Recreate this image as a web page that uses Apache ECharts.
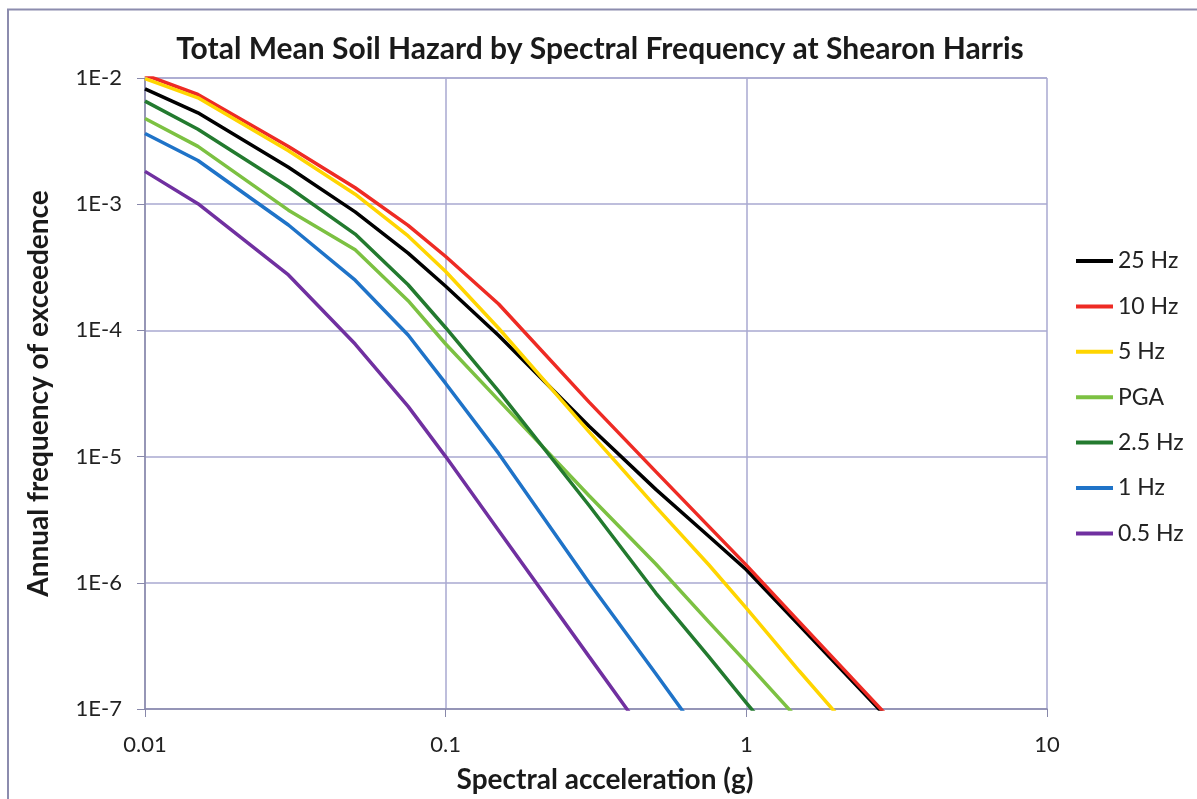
<!DOCTYPE html>
<html>
<head>
<meta charset="utf-8">
<title>Total Mean Soil Hazard by Spectral Frequency at Shearon Harris</title>
<script src="https://cdn.jsdelivr.net/npm/echarts@6/dist/echarts.min.js"></script>
<style>
  html, body { margin: 0; padding: 0; background: #fff; }
  #chart { width: 1197px; height: 799px; }
</style>
</head>
<body>
<div id="chart"></div>
<script>
// spectral acceleration (g) at which the hazard was computed
var accel = [0.01, 0.015, 0.03, 0.05, 0.075, 0.1, 0.15, 0.3, 0.5, 0.75, 1, 1.5, 3];

// annual frequency of exceedence, one array per spectral frequency
var hz25  = [8.2e-3, 5.3e-3, 1.96e-3, 8.7e-4, 4.1e-4, 2.24e-4, 9.1e-5, 1.74e-5, 5.5e-6, 2.34e-6, 1.27e-6, 4.6e-7, 8.1e-8];
var hz10  = [1.06e-2, 7.4e-3, 2.87e-3, 1.35e-3, 6.8e-4, 3.85e-4, 1.62e-4, 2.7e-5, 7.6e-6, 2.8e-6, 1.38e-6, 4.9e-7, 8.4e-8];
var hz5   = [9.9e-3, 6.97e-3, 2.65e-3, 1.2e-3, 5.6e-4, 2.93e-4, 1.04e-4, 1.57e-5, 4.0e-6, 1.39e-6, 6.3e-7, 2.0e-7, 3.0e-8];
var pga   = [4.77e-3, 2.87e-3, 8.97e-4, 4.35e-4, 1.72e-4, 7.8e-5, 2.8e-5, 4.9e-6, 1.41e-6, 4.9e-7, 2.34e-7, 8.1e-8, null];
var hz2_5 = [6.56e-3, 3.93e-3, 1.37e-3, 5.8e-4, 2.3e-4, 1.05e-4, 3.3e-5, 4.1e-6, 8.3e-7, 2.6e-7, 1.12e-7, 3.5e-8, null];
var hz1   = [3.63e-3, 2.22e-3, 6.84e-4, 2.5e-4, 9.2e-5, 3.8e-5, 1.06e-5, 1.0e-6, 1.9e-7, 5.0e-8, null, null, null];
var hz0_5 = [1.82e-3, 1.01e-3, 2.75e-4, 7.8e-5, 2.5e-5, 1.0e-5, 2.6e-6, 2.6e-7, 4.8e-8, null, null, null, null];

var names  = ['25 Hz', '10 Hz', '5 Hz', 'PGA', '2.5 Hz', '1 Hz', '0.5 Hz'];
var values = [hz25, hz10, hz5, pga, hz2_5, hz1, hz0_5];
var colors = ['#000000', '#ee2b24', '#ffd500', '#7cc142', '#237a2f', '#1f73c8', '#7030a0'];

var font = 'Lato';

function pairs(vals) {
    var out = [];
    for (var i = 0; i < accel.length; i++) {
        if (vals[i] != null) out.push([accel[i], vals[i]]);
    }
    return out;
}

var seriesList = names.map(function (n, i) {
    return {
        name: n,
        type: 'line',
        data: pairs(values[i]),
        symbol: 'none',
        showSymbol: false,
        clip: true,
        color: colors[i],
        lineStyle: { width: 3.5, color: colors[i] },
        emphasis: { disabled: true }
    };
});

var myChart = echarts.init(document.getElementById('chart'));
var option = {
    animation: false,
    backgroundColor: '#ffffff',
    title: {
        text: 'Total Mean Soil Hazard by Spectral Frequency at Shearon Harris',
        left: 595,
        textAlign: 'center',
        top: 29,
        textStyle: { fontFamily: font, fontSize: 30, fontWeight: 'bold', color: '#1a1a1a' }
    },
    graphic: [{
        type: 'rect',
        shape: { x: 8, y: 9.5, width: 1200, height: 800 },
        style: { fill: 'none', stroke: '#8c8cae', lineWidth: 2 },
        silent: true
    }],
    legend: {
        data: names,
        orient: 'vertical',
        left: 1076,
        top: 249,
        padding: 0,
        itemGap: 21.4,
        itemWidth: 37,
        itemHeight: 4,
        icon: 'rect',
        textStyle: { fontFamily: font, fontSize: 23, lineHeight: 24, color: '#222' }
    },
    grid: { left: 145, right: 150, top: 78, bottom: 83 },
    xAxis: {
        type: 'log',
        logBase: 10,
        min: 0.01,
        max: 10,
        name: 'Spectral acceleration (g)',
        nameLocation: 'middle',
        nameGap: 57,
        nameTextStyle: { fontFamily: font, fontSize: 28, fontWeight: 'bold', color: '#1a1a1a', padding: [0, 0, 0, 18] },
        axisLine: { show: true, lineStyle: { color: '#8888aa', width: 1.5 } },
        axisTick: { show: true, length: 8, lineStyle: { color: '#8888aa' } },
        axisLabel: {
            margin: 25,
            fontFamily: font, fontSize: 22, color: '#222',
            formatter: function (v) {
                var e = Math.round(Math.log10(v));
                return e < 0 ? Math.pow(10, e).toFixed(-e) : String(Math.pow(10, e));
            }
        },
        splitLine: { show: true, lineStyle: { color: '#a8a8d0', width: 1.5 } }
    },
    yAxis: {
        type: 'log',
        logBase: 10,
        min: 1e-7,
        max: 1e-2,
        name: 'Annual frequency of exceedence',
        nameLocation: 'middle',
        nameGap: 92,
        nameTextStyle: { fontFamily: font, fontSize: 28, fontWeight: 'bold', color: '#1a1a1a' },
        axisLine: { show: true, lineStyle: { color: '#8888aa', width: 1.5 } },
        axisTick: { show: true, length: 8, lineStyle: { color: '#8888aa' } },
        axisLabel: {
            margin: 23,
            fontFamily: font, fontSize: 22, color: '#222',
            formatter: function (v) {
                return '1E' + Math.round(Math.log10(v));
            }
        },
        splitLine: { show: true, lineStyle: { color: '#a8a8d0', width: 1.5 } }
    },
    series: seriesList
};
myChart.setOption(option);
</script>
</body>
</html>
